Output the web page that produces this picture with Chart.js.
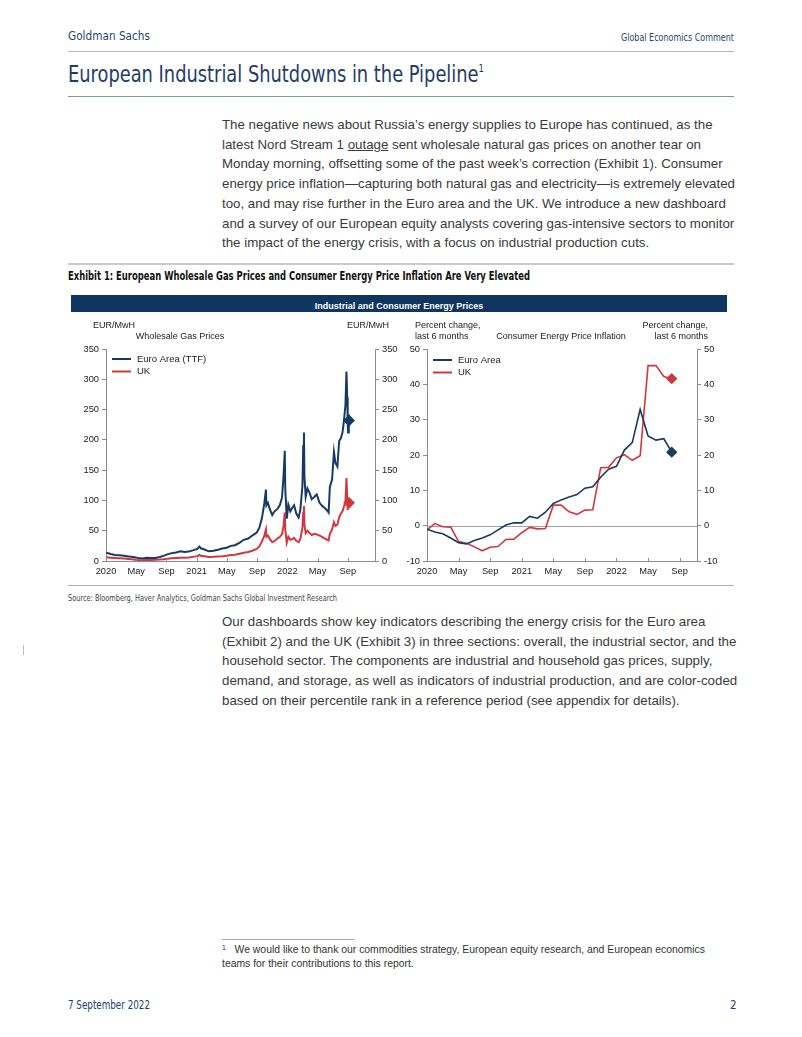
<!DOCTYPE html>
<html>
<head>
<meta charset="utf-8">
<script src="https://cdn.jsdelivr.net/npm/chart.js@4.4.0/dist/chart.umd.min.js"></script>
<style>
  body { margin: 0; background: #fff; }
  #page { position: relative; width: 802px; height: 1037px; overflow: hidden; font-family: "Liberation Sans", Arial, sans-serif; }
  .abs { position: absolute; white-space: nowrap; }
  .cond { font-family: "Liberation Sans Narrow", "DejaVu Sans Condensed", "Liberation Sans", sans-serif; }
  [data-w] { display: inline-block; transform-origin: left center; }
  .rule { position: absolute; left: 68px; width: 666px; }
  .para { position: absolute; left: 222px; font-size: 13.3px; line-height: 19.7px; color: #3a3a3a; white-space: nowrap; }
  canvas { position: absolute; }
</style>
</head>
<body>
<div id="page">
  <div class="abs cond" style="left:68px;top:28px;font-size:13px;color:#2a4670;"><span data-w="82">Goldman Sachs</span></div>
  <div class="abs cond" style="left:621px;top:31px;font-size:11px;color:#2a4670;"><span data-w="113">Global Economics Comment</span></div>
  <div class="rule" style="top:51px;height:1px;background:#b8b8b8;"></div>

  <div class="abs cond" style="left:68px;top:61px;font-size:23px;color:#1f3d68;"><span data-w="416">European Industrial Shutdowns in the Pipeline<span style="font-size:11px;position:relative;top:-10px;">1</span></span></div>
  <div class="rule" style="top:96px;height:1px;background:#8396ae;"></div>

  <div class="para" style="top:115px;">
    The negative news about Russia’s energy supplies to Europe has continued, as the<br>
    latest Nord Stream 1 <u>outage</u> sent wholesale natural gas prices on another tear on<br>
    Monday morning, offsetting some of the past week’s correction (Exhibit 1). Consumer<br>
    energy price inflation—capturing both natural gas and electricity—is extremely elevated<br>
    too, and may rise further in the Euro area and the UK. We introduce a new dashboard<br>
    and a survey of our European equity analysts covering gas-intensive sectors to monitor<br>
    the impact of the energy crisis, with a focus on industrial production cuts.
  </div>

  <div class="rule" style="top:263px;height:2px;background:#cacaca;"></div>
  <div class="abs cond" style="left:68px;top:269px;font-size:12px;font-weight:bold;color:#111;"><span data-w="462">Exhibit 1: European Wholesale Gas Prices and Consumer Energy Price Inflation Are Very Elevated</span></div>

  <div class="abs" style="left:71px;top:295px;width:656px;height:17px;background:#0f3560;text-align:center;line-height:17px;">
    <span style="display:inline-block;font-size:9px;font-weight:bold;color:#fff;">Industrial and Consumer Energy Prices</span>
  </div>

  <canvas id="gasChart" width="330" height="266" style="left:68px;top:316px;"></canvas>
  <canvas id="inflChart" width="332" height="266" style="left:398px;top:316px;"></canvas>

  <div class="rule" style="top:585px;height:1px;background:#b0b0b0;"></div>
  <div class="abs cond" style="left:68px;top:593px;font-size:8.5px;color:#444;"><span data-w="269">Source: Bloomberg, Haver Analytics, Goldman Sachs Global Investment Research</span></div>

  <div class="para" style="top:612px;">
    Our dashboards show key indicators describing the energy crisis for the Euro area<br>
    (Exhibit 2) and the UK (Exhibit 3) in three sections: overall, the industrial sector, and the<br>
    household sector. The components are industrial and household gas prices, supply,<br>
    demand, and storage, as well as indicators of industrial production, and are color-coded<br>
    based on their percentile rank in a reference period (see appendix for details).
  </div>

  <div class="abs" style="left:23px;top:645px;width:1px;height:10px;background:#bbb;"></div>

  <div class="abs" style="left:222px;top:939px;width:133px;height:1px;background:#aaa;"></div>
  <div class="abs" style="left:222px;top:943px;font-size:10.4px;line-height:13px;color:#333;">
    <span style="font-size:7px;position:relative;top:-3px;">1</span>&nbsp;&nbsp;&nbsp;We would like to thank our commodities strategy, European equity research, and European economics<br>
    teams for their contributions to this report.
  </div>

  <div class="abs cond" style="left:68px;top:998px;font-size:11.5px;color:#1f3d68;"><span data-w="82">7 September 2022</span></div>
  <div class="abs cond" style="left:730px;top:998px;font-size:11.5px;color:#1f3d68;">2</div>
</div>

<script>
  // ---- data ----
  var xTickMonths = [0, 4, 8, 12, 16, 20, 24, 28, 32];
  var xTickLabels = ['2020', 'May', 'Sep', '2021', 'May', 'Sep', '2022', 'May', 'Sep'];

  // wholesale gas prices, EUR/MwH
  var gasDates = [
    '2020-01-02', '2020-01-20', '2020-02-07', '2020-02-25', '2020-03-13', '2020-04-01', '2020-04-20', '2020-05-08',
    '2020-05-26', '2020-06-12', '2020-06-30', '2020-07-17', '2020-08-04', '2020-08-20', '2020-09-04', '2020-09-22',
    '2020-10-09', '2020-10-27', '2020-11-13', '2020-11-30', '2020-12-16', '2021-01-04', '2021-01-12', '2021-01-18',
    '2021-02-02', '2021-02-19', '2021-03-08', '2021-03-26', '2021-04-13', '2021-04-30', '2021-05-17', '2021-06-03',
    '2021-06-21', '2021-07-08', '2021-07-26', '2021-08-12', '2021-08-30', '2021-09-10', '2021-09-20', '2021-09-30',
    '2021-10-06', '2021-10-08', '2021-10-14', '2021-10-22', '2021-11-01', '2021-11-10', '2021-11-22', '2021-12-01',
    '2021-12-10', '2021-12-16', '2021-12-21', '2021-12-23', '2021-12-29', '2022-01-05', '2022-01-13', '2022-01-21',
    '2022-01-28', '2022-02-07', '2022-02-16', '2022-02-23', '2022-03-01', '2022-03-04', '2022-03-07', '2022-03-09',
    '2022-03-14', '2022-03-21', '2022-03-30', '2022-04-08', '2022-04-19', '2022-04-28', '2022-05-09', '2022-05-19',
    '2022-05-31', '2022-06-10', '2022-06-15', '2022-06-20', '2022-06-29', '2022-07-06', '2022-07-12', '2022-07-20',
    '2022-07-27', '2022-08-03', '2022-08-10', '2022-08-16', '2022-08-22', '2022-08-26', '2022-08-29', '2022-08-31',
    '2022-09-02', '2022-09-05', '2022-09-06'
  ];
  var ttfPrices = [
    13.5, 11.5, 10, 9.5, 8.5, 7.5, 6.5, 5,
    4, 5.5, 4.8, 5, 6.5, 8.5, 11, 13,
    14, 16, 15, 15.5, 17.5, 20, 24, 21,
    19, 16, 17, 18.5, 20.5, 22, 25, 26,
    30, 35, 37, 42, 47, 55, 70, 95,
    118, 92, 96, 85, 76, 82, 86, 92,
    105, 140, 182, 120, 70, 93, 82, 88,
    92, 78, 72, 85, 125, 190, 212, 140,
    106, 120, 112, 102, 106, 110, 96, 91,
    87, 83, 80, 122, 135, 180, 162, 156,
    198, 202, 212, 232, 258, 313, 270, 236,
    212, 242, 232
  ];
  var ukGasPrices = [
    6, 5.5, 5, 4.5, 4, 3.5, 2.5, 1.5,
    1.2, 1.8, 1.6, 2, 2.4, 3, 3.8, 4.5,
    5, 5.5, 5.4, 5.8, 6.8, 8, 10, 8.5,
    7.8, 6.8, 7, 7.5, 8, 8.8, 9.8, 10.5,
    12, 13.5, 15, 17, 20, 24, 32, 42,
    52, 40, 42, 36, 31, 33, 37, 40,
    44, 58, 80, 52, 30, 40, 35, 36,
    38, 33, 31, 37, 55, 80, 91, 60,
    46, 50, 46, 43, 45, 44, 42, 40,
    37, 35, 34, 45, 52, 64, 58, 60,
    72, 78, 82, 90, 98, 137, 105, 84,
    90, 100, 96
  ];

  // consumer energy price inflation, % change last 6 months, monthly from Jan 2020
  var euroInflation = [
    -1.0, -1.8, -2.3, -3.5, -4.8, -5.2, -4.2, -3.5, -2.6, -1.2, 0.2, 0.8,
    0.8, 2.6, 2.1, 3.8, 6.3, 7.3, 8.1, 8.8, 10.6, 11.0, 13.7, 16.0,
    16.8, 21.4, 23.5, 32.9, 25.4, 24.2, 24.6, 20.8
  ];
  var ukInflation = [
    -1.2, 0.6, -0.3, -0.4, -4.5, -5.0, -6.0, -7.1, -6.1, -5.9, -3.9, -3.8,
    -2.0, -0.5, -0.9, -0.8, 5.8, 5.8, 3.9, 3.2, 4.4, 4.5, 16.4, 16.5,
    19.2, 20.1, 18.5, 19.8, 45.3, 45.3, 42.2, 41.6
  ];

  var navy = '#163a66';
  var red = '#d2373d';
  var axisGrey = '#8c8c8c';
  var tickFont = { family: '"Liberation Sans", Arial, sans-serif', size: 9.3 };

  function monthOffset(d) {
    var p = d.split('-');
    return (+p[0] - 2020) * 12 + (+p[1] - 1) + (+p[2] - 1) / 30.4;
  }

  function toPoints(xs, ys) {
    return ys.map(function (v, i) { return { x: xs[i], y: v }; });
  }

  var gasX = gasDates.map(monthOffset);
  var inflX = euroInflation.map(function (v, i) { return i; });

  // diamond on the last point only
  function lastPointRadius(ctx) {
    return ctx.dataIndex === ctx.dataset.data.length - 1 ? 4.5 : 0;
  }

  // units, title, legend, inward x ticks and zero line
  var decor = {
    id: 'decor',
    beforeDatasetsDraw: function (chart, args, o) {
      if (!o.zeroLine) return;
      var a = chart.chartArea;
      var y = Math.round(chart.scales.y.getPixelForValue(0)) + 0.5;
      var ctx = chart.ctx;
      ctx.save();
      ctx.strokeStyle = '#a0a0a0';
      ctx.lineWidth = 1;
      ctx.beginPath();
      ctx.moveTo(a.left, y);
      ctx.lineTo(a.right, y);
      ctx.stroke();
      ctx.restore();
    },
    afterDraw: function (chart, args, o) {
      var ctx = chart.ctx;
      var a = chart.chartArea;
      ctx.save();
      ctx.fillStyle = '#222';
      ctx.font = '9px "Liberation Sans", Arial, sans-serif';
      ctx.textBaseline = 'middle';

      ctx.textAlign = 'left';
      o.unitLeft.forEach(function (t, i) { ctx.fillText(t, o.unitLeftX, 10 + i * 11); });
      ctx.textAlign = 'right';
      o.unitRight.forEach(function (t, i) { ctx.fillText(t, o.unitRightX, 10 + i * 11); });
      ctx.textAlign = 'center';
      ctx.fillText(o.title, o.titleX, 21);

      // legend
      ctx.textAlign = 'left';
      ctx.font = '9.5px "Liberation Sans", Arial, sans-serif';
      chart.data.datasets.forEach(function (ds, i) {
        var y = o.legendY + i * 12.5;
        ctx.strokeStyle = ds.borderColor;
        ctx.lineWidth = 2;
        ctx.beginPath();
        ctx.moveTo(o.legendX, y);
        ctx.lineTo(o.legendX + 19, y);
        ctx.stroke();
        ctx.fillText(ds.label, o.legendX + 25, y);
      });

      // small x ticks pointing into the plot
      var xs = chart.scales.x;
      ctx.strokeStyle = axisGrey;
      ctx.lineWidth = 1;
      xs.ticks.forEach(function (t) {
        var px = Math.round(xs.getPixelForValue(t.value)) + 0.5;
        ctx.beginPath();
        ctx.moveTo(px, a.bottom);
        ctx.lineTo(px, a.bottom - 3);
        ctx.stroke();
      });
      ctx.restore();
    }
  };

  function makeScales(xMax, yMin, yMax, step, leftW, rightW) {
    var yAxis = function (pos, w) {
      return {
        position: pos,
        min: yMin,
        max: yMax,
        border: { color: axisGrey },
        grid: { drawOnChartArea: false, tickLength: 4, color: axisGrey },
        ticks: { stepSize: step, padding: 3, color: '#222', font: tickFont },
        afterFit: function (s) { s.width = w; }
      };
    };
    return {
      x: {
        type: 'linear',
        min: 0,
        max: xMax,
        border: { color: axisGrey },
        grid: { display: false, drawTicks: false },
        ticks: {
          padding: 5,
          color: '#222',
          font: tickFont,
          maxRotation: 0,
          autoSkip: false,
          callback: function (v) {
            var i = xTickMonths.indexOf(v);
            return i >= 0 ? xTickLabels[i] : '';
          }
        },
        afterBuildTicks: function (s) {
          s.ticks = xTickMonths.map(function (v) { return { value: v }; });
        },
        afterFit: function (s) { s.height = 21; }
      },
      y: yAxis('left', leftW),
      y2: yAxis('right', rightW)
    };
  }

  function lineSet(label, pts, color, width) {
    return {
      label: label,
      data: pts,
      borderColor: color,
      backgroundColor: color,
      borderWidth: width,
      pointStyle: 'rectRot',
      pointRadius: lastPointRadius,
      pointHoverRadius: 0,
      tension: 0,
      yAxisID: 'y'
    };
  }

  new Chart(document.getElementById('gasChart'), {
    type: 'line',
    data: {
      datasets: [
        lineSet('Euro Area (TTF)', toPoints(gasX, ttfPrices), navy, 2),
        lineSet('UK', toPoints(gasX, ukGasPrices), red, 2)
      ]
    },
    options: {
      responsive: false,
      animation: false,
      devicePixelRatio: 1,
      layout: { padding: { top: 33, left: 0, right: 0, bottom: 0 } },
      plugins: {
        legend: { display: false },
        tooltip: { enabled: false },
        decor: {
          unitLeft: ['EUR/MwH'], unitLeftX: 25,
          unitRight: ['EUR/MwH'], unitRightX: 321,
          title: 'Wholesale Gas Prices', titleX: 112,
          legendX: 44, legendY: 43
        }
      },
      scales: makeScales(35.6, 0, 350, 50, 38, 23)
    },
    plugins: [decor]
  });

  new Chart(document.getElementById('inflChart'), {
    type: 'line',
    data: {
      datasets: [
        lineSet('Euro Area', toPoints(inflX, euroInflation), '#1a3a60', 1.6),
        lineSet('UK', toPoints(inflX, ukInflation), red, 1.6)
      ]
    },
    options: {
      responsive: false,
      animation: false,
      devicePixelRatio: 1,
      layout: { padding: { top: 33, left: 0, right: 0, bottom: 0 } },
      plugins: {
        legend: { display: false },
        tooltip: { enabled: false },
        decor: {
          unitLeft: ['Percent change,', 'last 6 months'], unitLeftX: 17,
          unitRight: ['Percent change,', 'last 6 months'], unitRightX: 310,
          title: 'Consumer Energy Price Inflation', titleX: 163,
          legendX: 35, legendY: 44,
          zeroLine: true
        }
      },
      scales: makeScales(34.2, -10, 50, 10, 29, 33)
    },
    plugins: [decor]
  });

  // squeeze the condensed headings to the widths in the original
  document.querySelectorAll('[data-w]').forEach(function (el) {
    var w = el.getBoundingClientRect().width;
    el.style.transform = 'scaleX(' + (+el.dataset.w / w).toFixed(3) + ')';
  });
</script>
</body>
</html>
